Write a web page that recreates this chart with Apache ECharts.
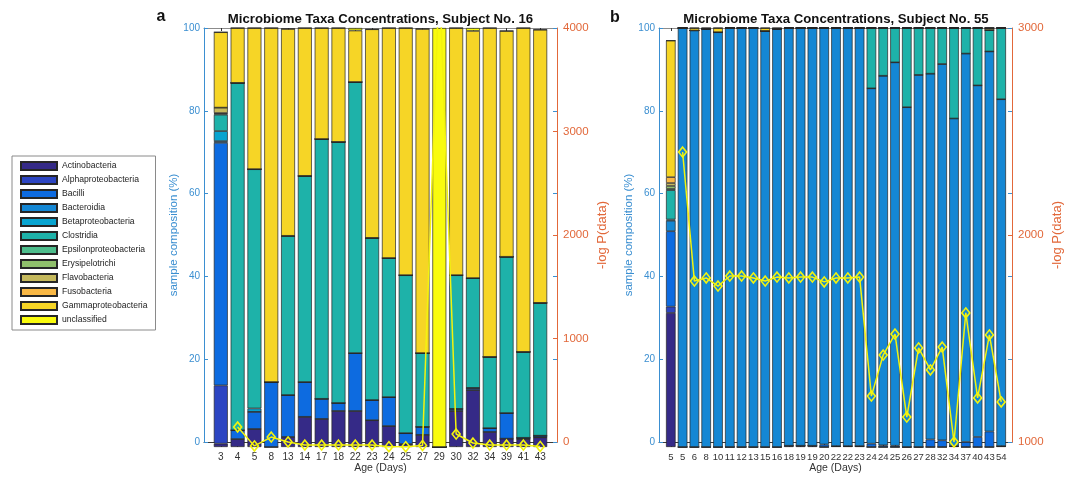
<!DOCTYPE html>
<html><head><meta charset="utf-8">
<script src="https://cdn.jsdelivr.net/npm/echarts@6/dist/echarts.min.js"></script>
<style>html,body{margin:0;padding:0;background:#fff}#c{width:1065px;height:479px}</style>
</head><body><div id="c"></div>
<script>
// ---------- data ----------
const taxa = ['Actinobacteria','Alphaproteobacteria','Bacilli','Bacteroidia','Betaproteobacteria','Clostridia','Epsilonproteobacteria','Erysipelotrichi','Flavobacteria','Fusobacteria','Gammaproteobacteria','unclassified'];
const taxaColors = ['#352a87','#2c45c2','#0d6be0','#1487d4','#08a4d0','#1eb2a9','#4dbd8c','#8fbf6b','#c5b95c','#f9b845','#f6d526','#f9fb0e'];

// Panel a: Subject No. 16
const daysA = ['3','4','5','8','13','14','17','18','22','23','24','25','27','29','30','32','34','39','41','43'];
const aActino      = [0.8,1.9,4.3,0,2.4,7.2,6.7,8.6,8.6,6.4,5.0,0.7,2.9,0,8.6,13.6,3.6,2.0,1.9,2.3];
const aAlpha       = [13.9,0,0,0,0,0,0,0,0,0,0,0,0,0,0,0,0,0,0,0];
const aBacilli     = [57.9,2.1,4.1,15.5,10.0,8.3,4.8,1.9,13.8,4.8,6.9,2.6,1.9,0,0.5,0.5,0.9,6.1,0.3,0.4];
const aBacteroidia = [0.4,0,0,0,0,0,0,0,0,0,0,0,0,0,0,0,0,0,0,0];
const aBeta        = [2.4,0,0.8,0,0,0,0,0,0,0,0,0,0,0,0,0,0,0,0,0];
const aClostridia  = [3.9,82.9,57.1,0,38.0,49.2,62.0,62.3,64.7,38.7,33.2,37.7,17.6,0,31.9,26.2,17.0,37.3,20.5,31.7];
const aEpsilon     = [0.3,0,0,0,0,0,0,0,0,0,0,0,0,0,0,0,0,0,0,0];
const aErysip      = [0.1,0,0,0,0,0,0,0,0,0,0,0,0,0,0,0,0,0,0,0];
const aFlavo       = [1.3,0,0,0,0,0,0,0,0,0,0,0,0,0,0,0,0,0,0,0];
const aFuso        = [0,0,0,0,0,0,0,0,0,0,0,0,0,0,0,0,0,0,0,0];
const aGamma       = [18.0,13.1,33.7,84.5,49.4,35.3,26.5,27.2,12.3,49.8,54.9,59.0,77.4,0,59.0,59.0,78.5,53.9,77.3,65.2];
const aUnclass     = [0,0,0,0,0,0,0,0,0.6,0,0,0,0,100,0,0.7,0,0,0,0];
const aLogP        = [null,191,10,95,48,19,19,19,19,19,3,3,15,4500,124,38,19,19,19,5];

// Panel b: Subject No. 55
const daysB = ['5','5','6','8','10','11','12','13','15','16','18','19','19','20','22','22','23','24','24','25','26','27','28','32','34','37','40','43','54'];
const bActino      = [32,0,0,0,0,0,0,0,0,0,0.3,0.3,0.3,0,0.2,0.2,0.2,0,0,0,0,0,0,0,0.2,0,0,0,0.2];
const bAlpha       = [1.5,0,0,0,0,0,0,0,0,0,0,0,0,0,0,0,0,0,0,0,0,0,0,0,0,0,0,0,0];
const bBacilli     = [18,0,0,0,0,0,0,0,0,0,0,0,0,0.6,0,0,0,0.8,0.4,0.3,0,0,1.8,1.6,0,1.2,2.4,3.7,0];
const bBacteroidia = [2.5,100,99.4,99.8,99.0,100,100,100,99.3,99.8,99.7,99.7,99.7,99.4,99.8,99.8,99.8,84.8,88.2,91.5,81.1,88.8,87.3,89.8,78.2,92.7,83.9,90.7,82.8];
const bBeta        = [0.3,0,0,0,0,0,0,0,0,0,0,0,0,0,0,0,0,0,0,0,0,0,0,0,0,0,0,0,0];
const bClostridia  = [7.0,0,0,0,0,0,0,0,0,0,0,0,0,0,0,0,0,14.4,11.4,8.2,18.9,11.2,10.9,8.6,21.6,6.1,13.7,5.1,17.0];
const bEpsilon     = [0.3,0,0,0,0,0,0,0,0,0,0,0,0,0,0,0,0,0,0,0,0,0,0,0,0,0,0,0,0];
const bErysip      = [0.7,0,0,0,0,0,0,0,0,0,0,0,0,0,0,0,0,0,0,0,0,0,0,0,0,0,0,0,0];
const bFlavo       = [0.7,0,0,0,0,0,0,0,0,0,0,0,0,0,0,0,0,0,0,0,0,0,0,0,0,0,0,0.5,0];
const bFuso        = [1.4,0,0,0,0,0,0,0,0,0,0,0,0,0,0,0,0,0,0,0,0,0,0,0,0,0,0,0,0];
const bGamma       = [32.6,0,0.6,0.2,1.0,0,0,0,0.7,0.2,0,0,0,0,0,0,0,0,0,0,0,0,0,0,0,0,0,0,0];
const bUnclass     = [0,0,0,0,0,0,0,0,0,0,0,0,0,0,0,0,0,0,0,0,0,0,0,0,0,0,0,0,0];
const bLogP        = [null,2408,1792,1807,1768,1816,1816,1807,1792,1811,1807,1811,1811,1788,1807,1807,1811,1243,1439,1539,1143,1473,1368,1477,1024,1640,1234,1535,1215];

const yTicksLeft = [0, 20, 40, 60, 80, 100];

// ---------- chart ----------
const FONT = "'Liberation Sans', Arial, Helvetica, sans-serif";
const BLUE = '#3b8fd1';
const ORANGE = '#e2683a';
const LINE = '#f3f30e';
const panelA = [aActino,aAlpha,aBacilli,aBacteroidia,aBeta,aClostridia,aEpsilon,aErysip,aFlavo,aFuso,aGamma,aUnclass];
const panelB = [bActino,bAlpha,bBacilli,bBacteroidia,bBeta,bClostridia,bEpsilon,bErysip,bFlavo,bFuso,bGamma,bUnclass];
const plain = v => String(v);

function frameX(gi) {
  return [
    {type:'value', gridIndex:gi, position:'bottom', min:0, max:1,
     axisLine:{show:true, onZero:false, lineStyle:{color:'#3a3a3a', width:1}},
     axisTick:{show:false}, axisLabel:{show:false}, splitLine:{show:false},
     name:'Age (Days)', nameLocation:'middle', nameGap:21,
     nameTextStyle:{fontSize:10.5, color:'#333', fontFamily:FONT}},
    {type:'value', gridIndex:gi, position:'top', min:0, max:1,
     axisLine:{show:true, onZero:false, lineStyle:{color:'#8c8c8c', width:1}},
     axisTick:{show:false}, axisLabel:{show:false}, splitLine:{show:false}}
  ];
}
function dataX(gi, cats, fs) {
  return [
    {type:'category', gridIndex:gi, position:'bottom', data:cats, boundaryGap:true,
     axisLine:{show:false, onZero:false},
     axisTick:{show:true, inside:true, alignWithLabel:true, interval:0, length:3, lineStyle:{color:'#333'}},
     axisLabel:{interval:0, fontSize:fs, color:'#333', margin:5, fontFamily:FONT},
     splitLine:{show:false}},
    {type:'category', gridIndex:gi, position:'top', data:cats, boundaryGap:true,
     axisLine:{show:false, onZero:false},
     axisTick:{show:true, inside:true, alignWithLabel:true, interval:0, length:3, lineStyle:{color:'#333'}},
     axisLabel:{show:false}, splitLine:{show:false}}
  ];
}
function frameY(gi, rmin, rmax, gapL) {
  return [
    {type:'value', gridIndex:gi, position:'left', min:yTicksLeft[0], max:yTicksLeft[yTicksLeft.length-1], interval:20,
     axisLine:{show:true, onZero:false, lineStyle:{color:BLUE}},
     axisTick:{show:true, inside:true, length:4, lineStyle:{color:BLUE}},
     axisLabel:{fontSize:10, color:BLUE, margin:4, fontFamily:FONT, formatter:plain}, splitLine:{show:false},
     name:'sample composition (%)', nameLocation:'middle', nameGap:gapL,
     nameTextStyle:{fontSize:11.5, color:BLUE, fontFamily:FONT}},
    {type:'value', gridIndex:gi, position:'right', min:rmin, max:rmax, interval:1000,
     axisLine:{show:true, onZero:false, lineStyle:{color:ORANGE}},
     axisTick:{show:true, inside:true, length:4, lineStyle:{color:ORANGE}},
     axisLabel:{fontSize:11.5, color:ORANGE, margin:6, fontFamily:FONT, formatter:plain}, splitLine:{show:false},
     name:'-log P(data)', nameLocation:'middle', nameGap:39,
     nameTextStyle:{fontSize:13, color:ORANGE, fontFamily:FONT}},
    {type:'value', gridIndex:gi, position:'right', min:0, max:100, interval:20,
     axisLine:{show:false, onZero:false},
     axisTick:{show:true, inside:true, length:4, lineStyle:{color:BLUE}},
     axisLabel:{show:false}, splitLine:{show:false}}
  ];
}
function dataY(gi, rmin, rmax) {
  return [
    {type:'value', gridIndex:gi, show:false, min:0, max:100, splitLine:{show:false},
     axisLine:{show:false, onZero:false}, axisTick:{show:false}, axisLabel:{show:false}},
    {type:'value', gridIndex:gi, show:false, position:'right', min:rmin, max:rmax, splitLine:{show:false},
     axisLine:{show:false, onZero:false}, axisTick:{show:false}, axisLabel:{show:false}}
  ];
}

const series = [];
taxa.forEach((name, k) => {
  series.push({type:'bar', name, xAxisIndex:2, yAxisIndex:3, stack:'A', barCategoryGap:'17%',
    data: panelA[k], itemStyle:{color:taxaColors[k], borderColor:'#262626', borderWidth:0.7},
    emphasis:{disabled:true}, animation:false});
  series.push({type:'bar', name, xAxisIndex:6, yAxisIndex:8, stack:'B', barCategoryGap:'19%',
    data: panelB[k], itemStyle:{color:taxaColors[k], borderColor:'#262626', borderWidth:0.7},
    emphasis:{disabled:true}, animation:false});
});
const lineCommon = {type:'line', symbol:'diamond', symbolSize:[8,10], showAllSymbol:true, clip:true,
  connectNulls:false, z:10, silent:true, animation:false,
  lineStyle:{color:LINE, width:1.5},
  itemStyle:{color:'rgba(0,0,0,0)', borderColor:LINE, borderWidth:1.6},
  emphasis:{disabled:true}};
series.push(Object.assign({}, lineCommon, {name:'-log P A', xAxisIndex:2, yAxisIndex:4, data:aLogP}));
series.push(Object.assign({}, lineCommon, {name:'-log P B', xAxisIndex:6, yAxisIndex:9, data:bLogP}));

const TITLE_FONT = "bold 13.2px 'Liberation Sans', Arial, sans-serif";
const option = {
  animation:false,
  textStyle:{fontFamily:FONT},
  grid:[
    {left:204, right:508, top:28, bottom:32},
    {left:212.4, right:516.4, top:28, bottom:32},
    {left:659, right:52, top:28, bottom:32},
    {left:664.9, right:57.9, top:28, bottom:32}
  ],
  xAxis:[].concat(frameX(0), dataX(1, daysA, 10), frameX(2), dataX(3, daysB, 9.5)),
  yAxis:[].concat(frameY(0, 0, 4000, 24), dataY(1, 0, 4000), frameY(2, 1000, 3000, 22.5), dataY(3, 1000, 3000)),
  legend:{data:taxa, orient:'vertical', left:12, top:156, itemWidth:36, itemHeight:8, itemGap:4,
    padding:[5,8,5,8], borderColor:'#8a8a8a', borderWidth:1, icon:'rect', selectedMode:false,
    textStyle:{fontSize:8.6, color:'#222', fontFamily:FONT}},
  graphic:[
    {type:'text', x:380.5, y:19.5, style:{text:'Microbiome Taxa Concentrations, Subject No. 16', font:TITLE_FONT, fill:'#111', align:'center', verticalAlign:'middle', textAlign:'center', textVerticalAlign:'middle'}},
    {type:'text', x:836, y:19.5, style:{text:'Microbiome Taxa Concentrations, Subject No. 55', font:TITLE_FONT, fill:'#111', align:'center', verticalAlign:'middle', textAlign:'center', textVerticalAlign:'middle'}},
    {type:'text', x:161, y:16.5, style:{text:'a', font:"bold 16px 'Liberation Sans', Arial, sans-serif", fill:'#111', align:'center', verticalAlign:'middle', textAlign:'center', textVerticalAlign:'middle'}},
    {type:'text', x:615, y:17.5, style:{text:'b', font:"bold 16px 'Liberation Sans', Arial, sans-serif", fill:'#111', align:'center', verticalAlign:'middle', textAlign:'center', textVerticalAlign:'middle'}}
  ],
  series
};
const chart = echarts.init(document.getElementById('c'), null, {renderer:'canvas'});
chart.setOption(option);
</script>
</body></html>
